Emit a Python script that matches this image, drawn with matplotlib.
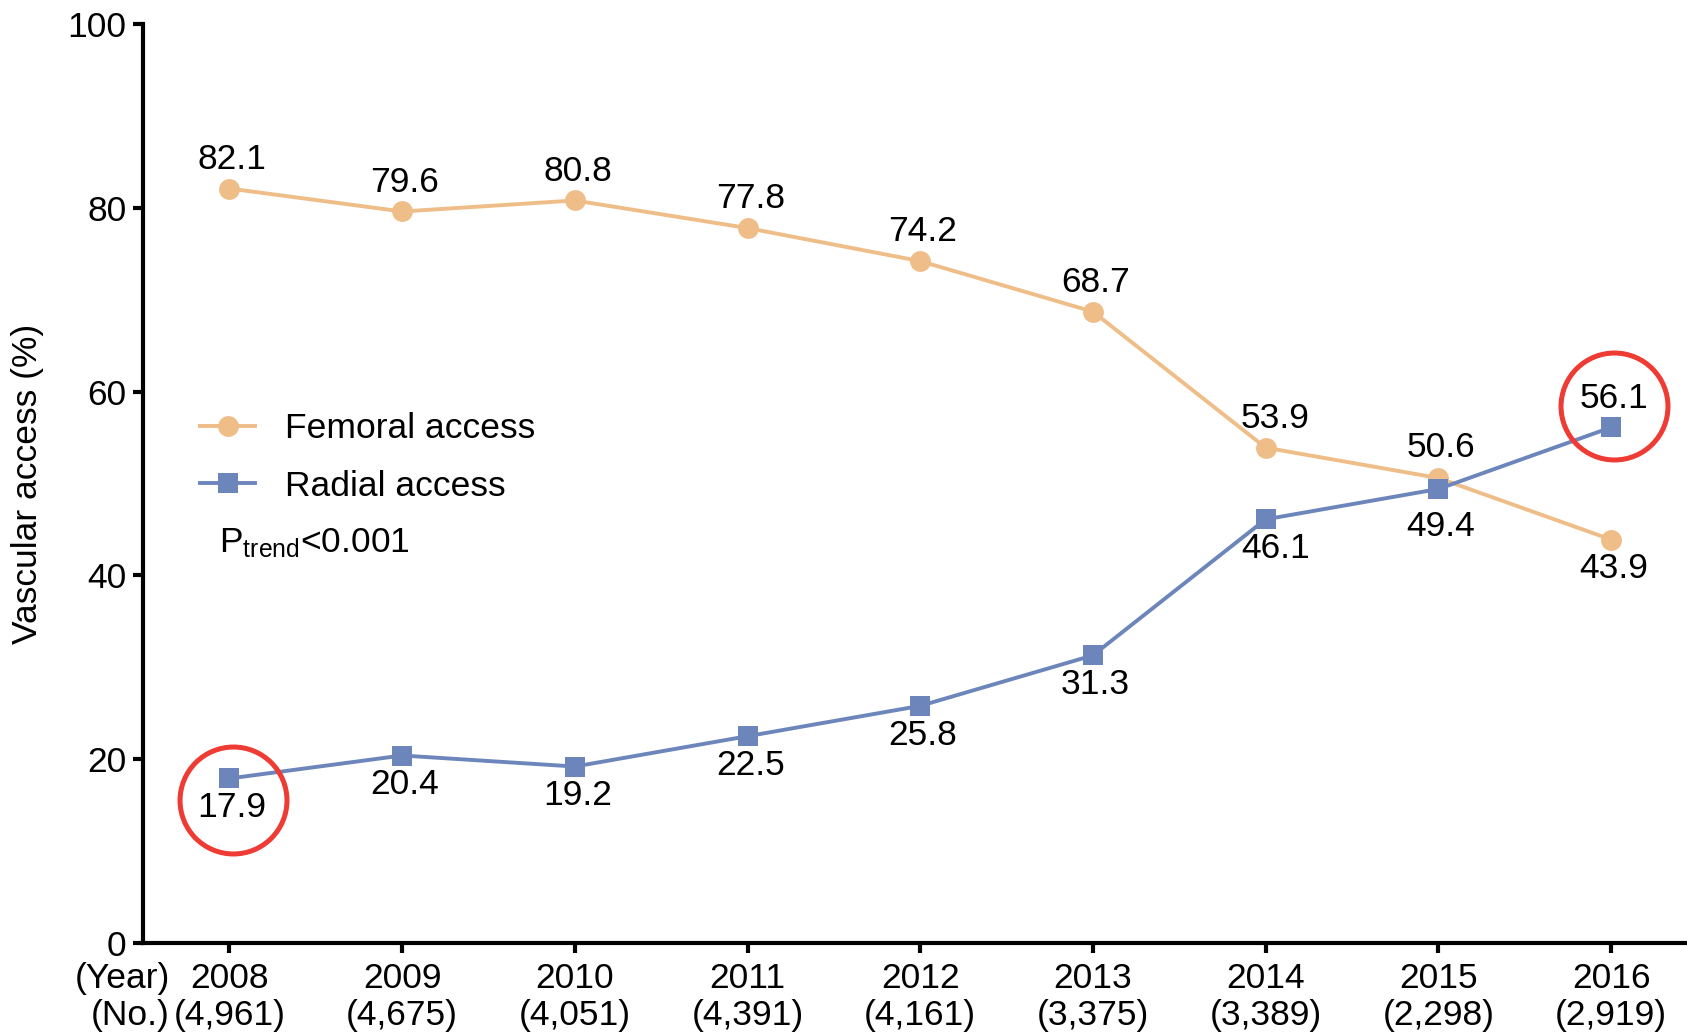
import matplotlib
matplotlib.use("Agg")
import matplotlib.pyplot as plt
from matplotlib.lines import Line2D
from matplotlib.transforms import blended_transform_factory

plt.rcParams["font.family"] = ["Liberation Sans", "DejaVu Sans"]
plt.rcParams["mathtext.default"] = "regular"

# Data
years = ["2008", "2009", "2010", "2011", "2012", "2013", "2014", "2015", "2016"]
counts = ["4,961", "4,675", "4,051", "4,391", "4,161", "3,375", "3,389", "2,298", "2,919"]
femoral = [82.1, 79.6, 80.8, 77.8, 74.2, 68.7, 53.9, 50.6, 43.9]
radial = [17.9, 20.4, 19.2, 22.5, 25.8, 31.3, 46.1, 49.4, 56.1]
highlighted_radial = [0, 8]  # indices circled in red

femoral_color = "#EFBD87"
radial_color = "#6C86BB"
fs = 25.5
lw = 2.8

fig = plt.figure(figsize=(16.87, 10.36), dpi=100)
ax = fig.add_axes([0.0848, 0.0898, 0.9152, 0.887])

x = list(range(len(years)))
ax.plot(x, femoral, color=femoral_color, lw=lw, marker="o", ms=15,
        markeredgewidth=0, zorder=3)
ax.plot(x, radial, color=radial_color, lw=lw, marker="s", ms=14,
        markeredgewidth=0, zorder=4)

# Value labels: femoral above, radial below (swapped in the final year)
off = 21
for i, (f, r) in enumerate(zip(femoral, radial)):
    f_up = f >= r or i < len(x) - 1
    dx = 7 if i == 6 else 2
    f_extra = 1 if i == 7 else 0
    r_extra = 6 if i == 7 else 0
    ax.annotate(f"{f:.1f}", (i, f), xytext=(dx, (off + f_extra) if f_up else -off),
                textcoords="offset points", ha="center", va="center", fontsize=fs)
    ax.annotate(f"{r:.1f}", (i, r), xytext=(dx, -(off + r_extra) if f_up else off),
                textcoords="offset points", ha="center", va="center", fontsize=fs)

# Red highlight circles
for i in highlighted_radial:
    cy = radial[i] - 2.3 if i == 0 else radial[i] + 2.3
    ax.plot([i + 0.02], [cy], marker="o", ms=77, mfc="none", mec="#EE3B33",
            mew=3.6, zorder=5, clip_on=False)

ax.set_xlim(-0.5, 8.44)
ax.set_ylim(0, 100)
ax.set_yticks([0, 20, 40, 60, 80, 100])
ax.set_xticks(x)
ax.set_xticklabels([f"{y}\n({c})" for y, c in zip(years, counts)],
                   linespacing=1.15)

for side in ("top", "right"):
    ax.spines[side].set_visible(False)
for side in ("left", "bottom"):
    ax.spines[side].set_linewidth(3)
ax.tick_params(axis="both", width=3, length=7, labelsize=fs, pad=5)
ax.tick_params(axis="x", pad=7)

ax.set_ylabel("Vascular access (%)", fontsize=fs, labelpad=17)

# Row headers for the x tick labels
trans = blended_transform_factory(ax.transData, ax.transAxes)
ax.annotate("(Year)\n(No.)", xy=(-0.345, 0), xycoords=trans,
            xytext=(0, -14), textcoords="offset points",
            ha="right", va="top", multialignment="right",
            fontsize=fs, linespacing=1.15)

handles = [
    Line2D([], [], color=femoral_color, lw=lw, marker="o", ms=15, markeredgewidth=0),
    Line2D([], [], color=radial_color, lw=lw, marker="s", ms=14, markeredgewidth=0),
]
ax.legend(handles, ["Femoral access", "Radial access"], loc="upper left",
          bbox_to_anchor=(0.0165, 0.612), frameon=False, fontsize=fs,
          handlelength=1.55, handletextpad=0.83, labelspacing=0.69)

ax.text(0.049, 0.435, r"P$_{trend}$<0.001", transform=ax.transAxes,
        fontsize=fs, ha="left", va="center")

fig.savefig("out.png", dpi=100)
